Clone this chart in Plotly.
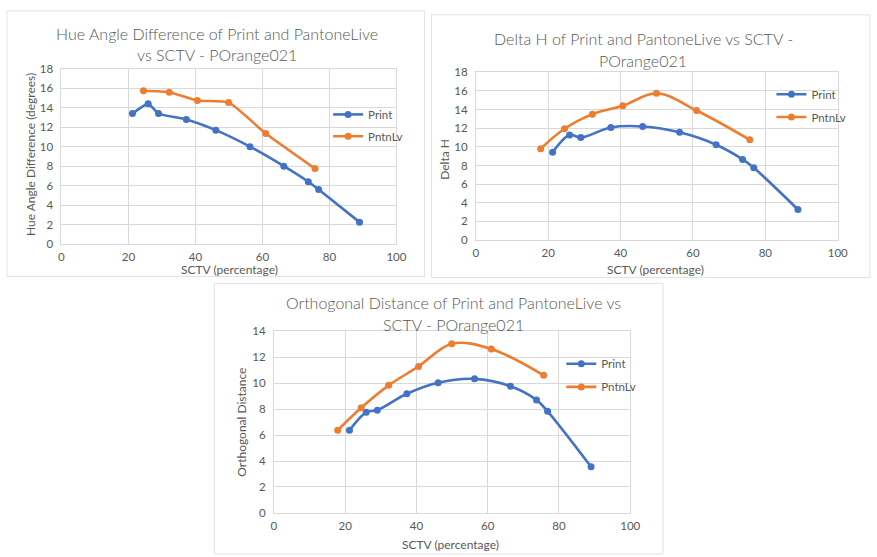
import plotly.graph_objects as go

W, H = 877, 557

# ---------------- data ----------------
sctv_print = [21.2, 25.9, 29.0, 37.3, 46.1, 56.3, 66.4, 73.7, 76.8, 89.0]
sctv_pntn = [17.9, 24.5, 32.2, 40.6, 49.9, 61.0, 75.7]

hue_print = [13.4, 14.4, 13.4, 12.8, 11.7, 10.0, 8.0, 6.4, 5.6, 2.25]
hue_pntn_x = [24.5, 32.2, 40.6, 49.9, 61.0, 75.7]
hue_pntn = [15.75, 15.6, 14.75, 14.55, 11.35, 7.75]

dh_print = [9.42, 11.27, 10.99, 12.07, 12.18, 11.55, 10.22, 8.65, 7.75, 3.28]
dh_pntn = [9.8, 11.93, 13.5, 14.4, 15.74, 13.89, 10.75]

od_print = [6.37, 7.75, 7.92, 9.18, 10.03, 10.33, 9.76, 8.7, 7.83, 3.56]
od_pntn = [6.37, 8.1, 9.83, 11.29, 13.04, 12.64, 10.6]

titles = ["Hue Angle Difference of Print and PantoneLive<br>vs SCTV - POrange021",
          "Delta H of Print and PantoneLive vs SCTV -<br>POrange021",
          "Orthogonal Distance of Print and PantoneLive vs<br>SCTV - POrange021"]
ytitles = ["Hue Angle Difference (degrees)", "Delta H", "Orthogonal Distance"]
xtitle = "SCTV (percentage)"
series_names = ["Print", "PntnLv"]

BLUE = "#4472C4"
ORANGE = "#ED7D31"
GRID = "#d9d9d9"
TXT = "#595959"
FONT = "Lato"


def px(x):
    return x / W


def py(y):
    return 1 - y / H


panels = [
    dict(l=59.3, r=399.3, t=63.3, b=242.7, ymax=18, border=(4, 428, 4, 276),
         title=(217.5, 27, 49), xt=(230, 268.5), yt=(28, 151), leg=(336, 110, 132.3),
         smooth=0.5),
    dict(l=480, r=847.3, t=66.7, b=238.7, ymax=18, border=(435, 880, 8, 277),
         title=(650, 32, 54.5), xt=(662.5, 268.5), yt=(448.3, 155.8), leg=(786, 89.3, 112.7),
         smooth=1.0),
    dict(l=275, r=636.7, t=332, b=518, ymax=14, border=(214.5, 670, 283, 560),
         title=(457.5, 303, 325), xt=(454, 550), yt=(241.7, 425.5), leg=(572.7, 365.3, 389),
         smooth=1.0),
]

data = [
    (sctv_print, hue_print, hue_pntn_x, hue_pntn),
    (sctv_print, dh_print, sctv_pntn, dh_pntn),
    (sctv_print, od_print, sctv_pntn, od_pntn),
]

fig = go.Figure()
shapes = []
annotations = []
layout_extra = {}

for i, (p, d) in enumerate(zip(panels, data)):
    n = i + 1
    xa = "x" if n == 1 else f"x{n}"
    ya = "y" if n == 1 else f"y{n}"
    xkey = "xaxis" if n == 1 else f"xaxis{n}"
    ykey = "yaxis" if n == 1 else f"yaxis{n}"
    xp, yp, xo, yo = d
    lg1 = "legend" if i == 0 else f"legend{2*i+1}"
    lg2 = f"legend{2*i+2}"
    fig.add_trace(go.Scatter(x=xp, y=yp, name=series_names[0], mode="lines+markers",
                             line=dict(color=BLUE, width=2.6, shape="spline", smoothing=p["smooth"]),
                             marker=dict(color=BLUE, size=7), xaxis=xa, yaxis=ya,
                             legend=lg1, showlegend=True))
    fig.add_trace(go.Scatter(x=xo, y=yo, name=series_names[1], mode="lines+markers",
                             line=dict(color=ORANGE, width=2.6, shape="spline", smoothing=p["smooth"]),
                             marker=dict(color=ORANGE, size=7), xaxis=xa, yaxis=ya,
                             legend=lg2, showlegend=True))
    layout_extra[xkey] = dict(domain=[px(p["l"]), px(p["r"])], range=[0, 100], dtick=20,
                              anchor=ya, showgrid=True, gridcolor=GRID, gridwidth=1,
                              zeroline=False, showline=True, linecolor=GRID, mirror=True,
                              ticks="", tickfont=dict(family=FONT, size=11.5, color=TXT),
                              ticklabelstandoff=2, fixedrange=True)
    layout_extra[ykey] = dict(domain=[py(p["b"]), py(p["t"])], range=[0, p["ymax"]], dtick=2,
                              anchor=xa, showgrid=True, gridcolor=GRID, gridwidth=1,
                              zeroline=False, showline=True, linecolor=GRID, mirror=True,
                              ticks="", tickfont=dict(family=FONT, size=11.5, color=TXT),
                              ticklabelstandoff=5, fixedrange=True)
    lx, ly1, ly2 = p["leg"]
    for key, yy in ((lg1, ly1), (lg2, ly2)):
        layout_extra[key] = dict(x=px(lx - 6), y=py(yy), xanchor="left", yanchor="middle",
                                 bgcolor="rgba(0,0,0,0)", borderwidth=0,
                                 font=dict(family=FONT, size=11.5, color=TXT),
                                 itemwidth=30)
    bx0, bx1, by0, by1 = p["border"]
    shapes.append(dict(type="rect", xref="paper", yref="paper", x0=px(bx0), x1=px(bx1),
                       y0=py(by1), y1=py(by0), line=dict(color="#e3e3e3", width=1),
                       layer="below"))
    tx, ty1, ty2 = p["title"]
    l1, l2 = titles[i].split("<br>")
    for txt, ty in ((l1, ty1), (l2, ty2)):
        annotations.append(dict(text=txt, xref="paper", yref="paper", x=px(tx), y=py(ty),
                                xanchor="center", yanchor="middle", showarrow=False,
                                font=dict(family=FONT, size=16, color=TXT, weight=300)))
    xtx, xty = p["xt"]
    annotations.append(dict(text=xtitle, xref="paper", yref="paper", x=px(xtx), y=py(xty),
                            xanchor="center", yanchor="middle", showarrow=False,
                            font=dict(family=FONT, size=12, color=TXT)))
    ytx, yty = p["yt"]
    annotations.append(dict(text=ytitles[i], xref="paper", yref="paper", x=px(ytx), y=py(yty),
                            xanchor="center", yanchor="middle", showarrow=False, textangle=-90,
                            font=dict(family=FONT, size=12, color=TXT)))

fig.update_layout(width=W, height=H, margin=dict(l=0, r=0, t=0, b=0),
                  paper_bgcolor="white", plot_bgcolor="white", showlegend=True,
                  shapes=shapes, annotations=annotations, **layout_extra)

fig.write_html("out.html")
